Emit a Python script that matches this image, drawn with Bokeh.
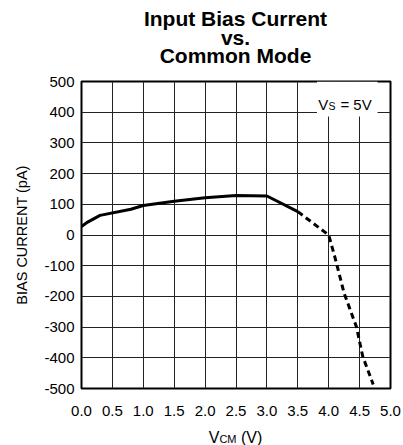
from bokeh.plotting import figure
from bokeh.models import Range1d, Label, FixedTicker, Div
from bokeh.layouts import column
from bokeh.embed import file_html
from bokeh.resources import INLINE

# Data
vcm_solid = [0.0, 0.1, 0.3, 0.8, 1.0, 1.5, 2.0, 2.5, 3.0, 3.5]
ib_solid = [28, 42, 64, 84, 96, 110, 121, 129, 127, 76]
vcm_dash = [3.5, 4.0, 4.1, 4.25, 4.45, 4.55, 4.72]
ib_dash = [76, 0, -72, -190, -300, -395, -487]
x_ticks = [0.0, 0.5, 1.0, 1.5, 2.0, 2.5, 3.0, 3.5, 4.0, 4.5, 5.0]
y_ticks = [-500, -400, -300, -200, -100, 0, 100, 200, 300, 400, 500]
title_lines = ["Input Bias Current", "vs.", "Common Mode"]

FONT = "Liberation Sans"

title_div = Div(
    text=('<div style="width:309px;padding-top:10px;font-family:\'Liberation Sans\';'
          'font-size:21px;font-weight:bold;line-height:18.5px;text-align:center;'
          'color:black;white-space:nowrap;">' + "<br>".join(title_lines) + '</div>'),
    width=309, height=68, margin=(0, 0, 0, 81))

p = figure(width=403, height=356, output_backend="svg", toolbar_location=None,
           x_range=Range1d(0, 5), y_range=Range1d(-500, 500),
           min_border_left=81, min_border_right=13, min_border_top=13,
           min_border_bottom=36)
p.title = None

p.outline_line_color = "black"
p.outline_line_width = 2
p.background_fill_color = "white"
p.border_fill_color = "white"

p.xaxis.ticker = FixedTicker(ticks=x_ticks)
p.yaxis.ticker = FixedTicker(ticks=y_ticks)
p.xaxis.major_label_overrides = {t: f"{t:.1f}" for t in x_ticks}
p.yaxis.major_label_overrides = {t: f"{t:d}" for t in y_ticks}
for ax in (p.xaxis, p.yaxis):
    ax.axis_line_color = None
    ax.major_tick_line_color = None
    ax.minor_tick_line_color = None
    ax.major_tick_out = 0
    ax.major_tick_in = 0
    ax.major_label_text_font = FONT
    ax.major_label_text_font_size = "15px"
    ax.major_label_text_color = "black"
p.xaxis.major_label_standoff = 17
p.yaxis.major_label_standoff = 7
p.yaxis.axis_label = "BIAS CURRENT (pA)"
p.yaxis.axis_label_text_font = FONT
p.yaxis.axis_label_text_font_size = "14.5px"
p.yaxis.axis_label_text_font_style = "normal"
p.yaxis.axis_label_text_color = "black"
p.yaxis.axis_label_standoff = 11

p.xgrid.grid_line_color = "#222222"
p.ygrid.grid_line_color = "#222222"
p.xgrid.grid_line_width = 1
p.ygrid.grid_line_width = 1

# white box behind the supply label
p.quad(left=3.81, right=4.79, bottom=386, top=500, fill_color="white", line_color=None)

p.line(vcm_solid, ib_solid, line_color="black", line_width=3)
p.line(vcm_dash, ib_dash, line_color="black", line_width=3, line_dash="6 4")

# V_S = 5V legend
p.add_layout(Label(x=3.83, y=425, text="V", text_font=FONT, text_font_size="15px",
                   text_baseline="alphabetic", text_color="black"))
p.add_layout(Label(x=3.995, y=419, text="S", text_font=FONT, text_font_size="10.5px",
                   text_baseline="alphabetic", text_color="black"))
p.add_layout(Label(x=4.19, y=425, text="= 5V", text_font=FONT, text_font_size="15px",
                   text_baseline="alphabetic", text_color="black"))

xlabel = Div(
    text=('<div style="width:309px;padding-top:6px;font-family:\'Liberation Sans\';'
          'font-size:16px;line-height:1;text-align:center;color:black;white-space:nowrap;">'
          'V<span style="font-size:11px">CM</span> (V)</div>'),
    width=309, height=21, margin=(0, 0, 0, 81))

layout = column(title_div, p, xlabel, spacing=0)
open("out.html", "w").write(file_html(layout, INLINE))
